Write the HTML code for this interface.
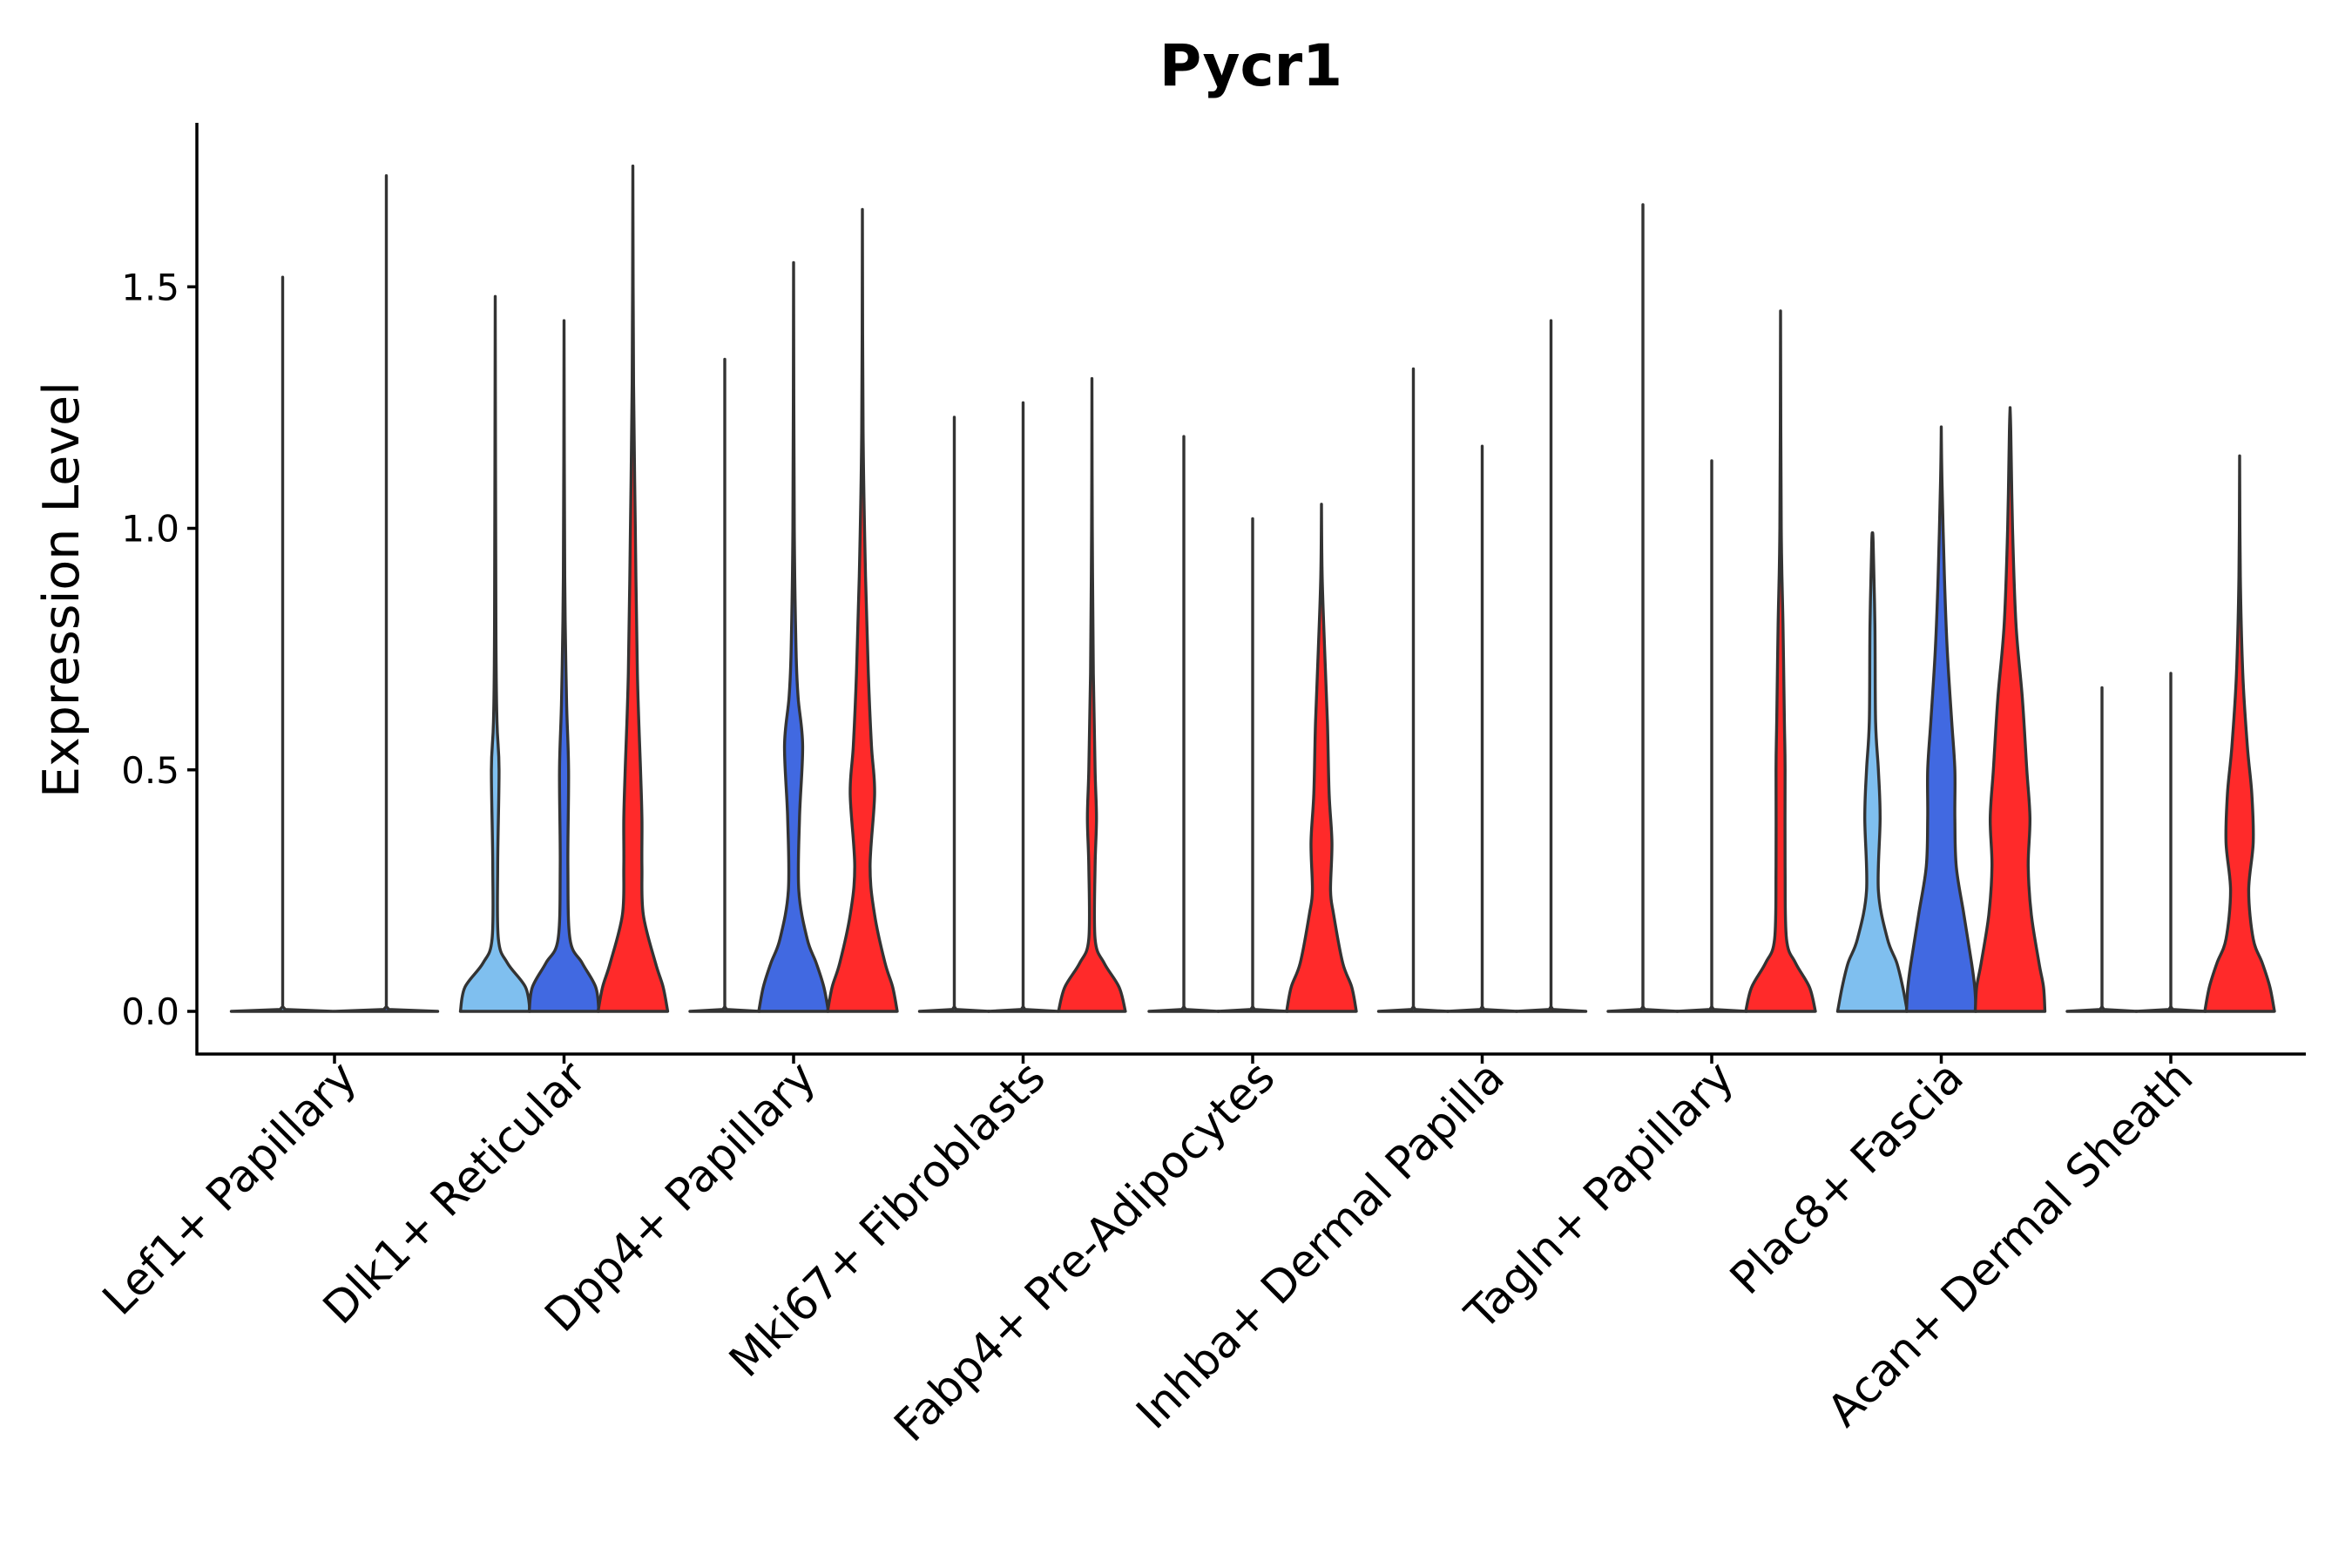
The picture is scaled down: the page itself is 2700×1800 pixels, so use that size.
<!DOCTYPE html>
<html><head><meta charset="utf-8"><style>body{margin:0;background:#fff}svg{display:block;font-family:"DejaVu Sans","Liberation Sans",sans-serif}</style></head>
<body>
<svg id="chart" width="2700" height="1800" viewBox="0 0 2700 1800">
<text x="1436" y="98" font-size="66" font-weight="bold" text-anchor="middle">Pycr1</text>
<text transform="translate(90,677) rotate(-90)" font-size="57" text-anchor="middle">Expression Level</text>
<g id="plot"></g>
</svg>
<script>
const categories = ["Lef1+ Papillary","Dlk1+ Reticular","Dpp4+ Papillary","Mki67+ Fibroblasts","Fabp4+ Pre-Adipocytes","Inhba+ Dermal Papilla","Tagln+ Papillary","Plac8+ Fascia","Acan+ Dermal Sheath"];
const yTicks = [0, 0.5, 1.0, 1.5];
const yTickLabels = ["0.0","0.5","1.0","1.5"];
const seriesColors = ["#7fbfef","#4169e1","#ff2a2a"];
const FLAT = [[0,1],[0.004,0.05],[0.01,0]];
const violins = [
 [{s:0,max:1.52,shape:FLAT},{s:1,max:1.73,shape:FLAT}],
 [{s:0,max:1.48,shape:[[0,1],[0.05,0.87],[0.1,0.35],[0.15,0.09],[0.3,0.07],[0.5,0.11],[0.6,0.05],[0.8,0.02]]},
  {s:1,max:1.43,shape:[[0,1],[0.05,0.91],[0.1,0.52],[0.15,0.17],[0.3,0.11],[0.5,0.13],[0.65,0.07],[0.9,0.02]]},
  {s:2,max:1.75,shape:[[0,1],[0.05,0.87],[0.1,0.65],[0.2,0.3],[0.3,0.26],[0.4,0.26],[0.5,0.22],[0.7,0.13],[1.0,0.07],[1.3,0.02]]}],
 [{s:0,max:1.35,shape:FLAT},
  {s:1,max:1.55,shape:[[0,1],[0.05,0.87],[0.1,0.65],[0.15,0.39],[0.25,0.15],[0.4,0.17],[0.55,0.26],[0.65,0.13],[0.75,0.07],[1.0,0.02]]},
  {s:2,max:1.66,shape:[[0,1],[0.05,0.87],[0.1,0.65],[0.2,0.35],[0.3,0.22],[0.45,0.35],[0.55,0.26],[0.7,0.17],[0.9,0.09],[1.2,0.02]]}],
 [{s:0,max:1.23,shape:FLAT},{s:1,max:1.26,shape:FLAT},
  {s:2,max:1.31,shape:[[0,0.96],[0.05,0.78],[0.1,0.35],[0.15,0.09],[0.3,0.09],[0.4,0.13],[0.5,0.09],[0.7,0.04],[1.0,0.01]]}],
 [{s:0,max:1.19,shape:FLAT},{s:1,max:1.02,shape:FLAT},
  {s:2,max:1.05,shape:[[0,1],[0.05,0.87],[0.1,0.61],[0.2,0.35],[0.25,0.26],[0.35,0.3],[0.45,0.22],[0.6,0.17],[0.75,0.09],[0.9,0.02]]}],
 [{s:0,max:1.33,shape:FLAT},{s:1,max:1.17,shape:FLAT},{s:2,max:1.43,shape:FLAT}],
 [{s:0,max:1.67,shape:FLAT},{s:1,max:1.14,shape:FLAT},
  {s:2,max:1.45,shape:[[0,1],[0.05,0.83],[0.1,0.43],[0.15,0.17],[0.3,0.13],[0.5,0.13],[0.6,0.11],[0.8,0.07],[1.0,0.02]]}],
 [{s:0,max:0.99,shape:[[0,1],[0.05,0.87],[0.1,0.7],[0.15,0.43],[0.25,0.17],[0.4,0.22],[0.5,0.17],[0.6,0.09],[0.8,0.07],[0.97,0.02]]},
  {s:1,max:1.21,shape:[[0,1],[0.05,0.96],[0.1,0.87],[0.2,0.65],[0.3,0.43],[0.4,0.39],[0.5,0.39],[0.6,0.3],[0.75,0.17],[0.9,0.09],[1.1,0.02]]},
  {s:2,max:1.25,shape:[[0,1],[0.05,0.96],[0.1,0.83],[0.2,0.61],[0.3,0.52],[0.4,0.57],[0.5,0.48],[0.65,0.35],[0.8,0.17],[1.0,0.07],[1.2,0.02]]}],
 [{s:0,max:0.67,shape:FLAT},{s:1,max:0.70,shape:FLAT},
  {s:2,max:1.15,shape:[[0,1],[0.05,0.87],[0.1,0.65],[0.15,0.39],[0.25,0.26],[0.35,0.39],[0.45,0.35],[0.55,0.22],[0.7,0.09],[0.9,0.02]]}]
];
const NS="http://www.w3.org/2000/svg";
const X0=226,X1=2647,YTOP=141,YAX=1210;
const y = v => 1161 - v*554.5;
const groupX = i => 384 + i*263.5;
const g=document.getElementById('plot');
function mk(tag,attrs){const e=document.createElementNS(NS,tag);for(const k in attrs)e.setAttribute(k,attrs[k]);g.appendChild(e);return e;}
function smooth(pts){
  let d="";
  for(let i=0;i<pts.length-1;i++){
    const p0=pts[Math.max(i-1,0)],p1=pts[i],p2=pts[i+1],p3=pts[Math.min(i+2,pts.length-1)];
    let c1=[p1[0]+(p2[0]-p0[0])/6,p1[1]+(p2[1]-p0[1])/6];
    let c2=[p2[0]-(p3[0]-p1[0])/6,p2[1]-(p3[1]-p1[1])/6];
    const lo=y(0);
    c1[1]=Math.min(c1[1],lo);c2[1]=Math.min(c2[1],lo);
    d+=` C${c1[0].toFixed(1)},${c1[1].toFixed(1)} ${c2[0].toFixed(1)},${c2[1].toFixed(1)} ${p2[0].toFixed(1)},${p2[1].toFixed(1)}`;
  }
  return d;
}
function linear(pts){return pts.slice(1).map(p=>` L${p[0].toFixed(1)},${p[1].toFixed(1)}`).join("");}
violins.forEach((vs,ci)=>{
  const n=vs.length, step = n===3?79:119;
  const HW = n===3?40:59;
  vs.forEach((v,k)=>{
    const cx = groupX(ci) + (k-(n-1)/2)*step;
    const pts = v.shape.slice();
    pts.push([v.max,0]);
    const right=pts.slice().reverse().map(p=>[cx+p[1]*HW,y(p[0])]);
    const left=pts.map(p=>[cx-p[1]*HW,y(p[0])]);
    const f = v.shape===FLAT ? linear : smooth;
    let d="M"+right[0][0].toFixed(1)+","+right[0][1].toFixed(1)+f(right)+" L"+left[0][0].toFixed(1)+","+left[0][1].toFixed(1)+f(left)+" Z";
    const p=mk('path',{d:d,fill:seriesColors[v.s],stroke:"#333",'stroke-width':3.4,'stroke-linejoin':'round'});
    
    
  });
  const tx=groupX(ci);
  const t=mk('line',{x1:tx,x2:tx,y1:YAX,y2:YAX+11,stroke:'#000','stroke-width':3.5});
  
  
  const lb=mk('text',{transform:`translate(${tx+28},${YAX+30}) rotate(-45)`,'font-size':51,'text-anchor':'end'});
  lb.textContent=categories[ci];
  
  
});
yTicks.forEach((v,i)=>{
  const t=mk('line',{x1:X0-11,x2:X0,y1:y(v),y2:y(v),stroke:'#000','stroke-width':3.5});
  
  
  const lb=mk('text',{x:X0-20,y:y(v)+15,'font-size':42,'text-anchor':'end'});
  lb.textContent=yTickLabels[i];
  
  
});
const ya=mk('line',{x1:X0,x2:X0,y1:YTOP,y2:YAX+1.5,stroke:'#000','stroke-width':3.5});


const xa=mk('line',{x1:X0-1.5,x2:X1,y1:YAX,y2:YAX,stroke:'#000','stroke-width':3.5});


</script>
</body></html>
